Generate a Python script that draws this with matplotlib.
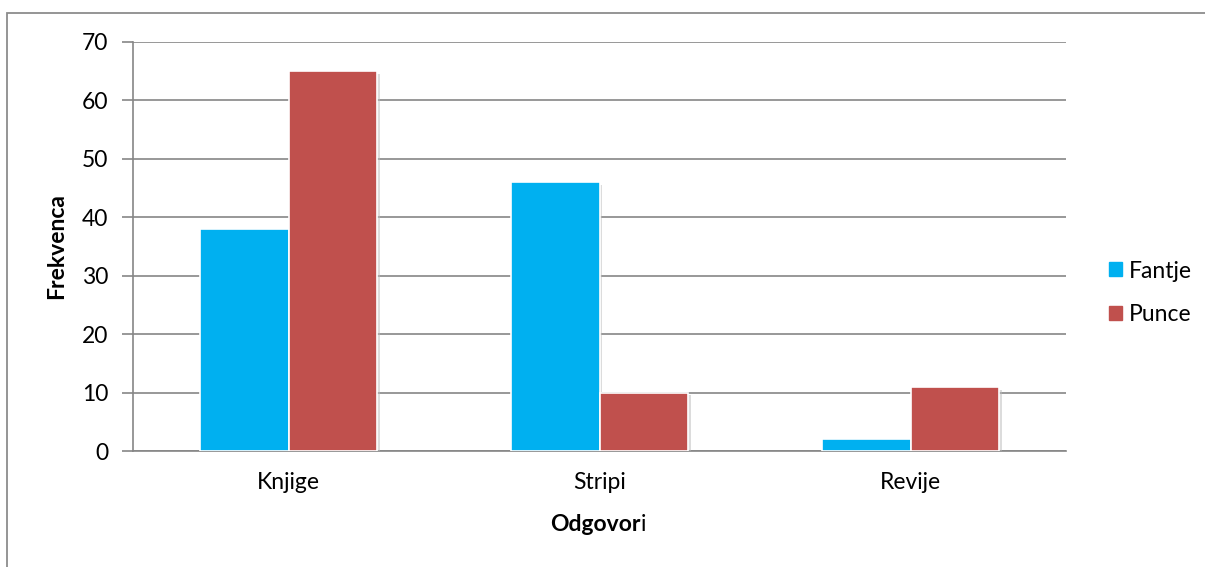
import matplotlib

matplotlib.use("Agg")

import matplotlib.pyplot as plt
import matplotlib.patheffects as pe
import numpy as np
from matplotlib.patches import Patch, Rectangle

plt.rcParams["font.family"] = ["Lato", "DejaVu Sans"]

categories = ["Knjige", "Stripi", "Revije"]
fantje = [38, 46, 2]
punce = [65, 10, 11]
series_names = ["Fantje", "Punce"]
yticks = [0, 10, 20, 30, 40, 50, 60, 70]

BLUE = "#00b0f0"
RED = "#c0504d"
GRID = "#868686"
FS = 16.5


def main():
    fig = plt.figure(figsize=(12.05, 5.67), dpi=100)

    # outer chart border (right and bottom edges fall outside the image)
    fig.patches.append(Rectangle((7 / 1205, -0.05), 1.2, 1 - 13 / 567 + 0.05,
                                 transform=fig.transFigure, fill=False,
                                 ec="#8c8c8c", lw=1.3))

    ax = fig.add_axes([133 / 1205, 1 - 451 / 567, 933 / 1205, 409 / 567])
    x = np.arange(len(categories))
    w = 0.285
    shadow = [pe.SimplePatchShadow(offset=(2, -2), shadow_rgbFace="#bbbbbb", alpha=0.5), pe.Normal()]
    b1 = ax.bar(x - w / 2, fantje, w, color=BLUE, ec="white", lw=1.2, zorder=3)
    b2 = ax.bar(x + w / 2, punce, w, color=RED, ec="white", lw=1.2, zorder=3)
    for b in list(b1) + list(b2):
        b.set_path_effects(shadow)

    ax.set_xlim(-0.5, 2.5)
    ax.set_ylim(0, 70)
    ax.set_yticks(yticks)
    ax.set_xticks(x)
    ax.set_xticklabels(categories, fontsize=FS)
    ax.tick_params(axis="x", length=0, pad=15)
    ax.tick_params(axis="y", length=8, width=1.2, color=GRID, labelsize=FS, pad=10)
    ax.grid(axis="y", color=GRID, lw=1.2, zorder=0)
    for s in ["top", "right"]:
        ax.spines[s].set_visible(False)
    for s in ["left", "bottom"]:
        ax.spines[s].set_color(GRID)
        ax.spines[s].set_linewidth(1.2)

    ax.set_ylabel("Frekvenca", fontsize=FS, fontweight="bold", labelpad=10)

    # x title: "Odgovor" bold followed by a regular "i"
    y_title = 1 - 531 / 567
    t = fig.text(0.4945, y_title, "Odgovor", fontsize=FS, fontweight="bold",
                 ha="center", va="baseline")
    fig.canvas.draw()
    bb = t.get_window_extent().transformed(fig.transFigure.inverted())
    fig.text(bb.x1, y_title, "i", fontsize=FS, ha="left", va="baseline")

    handles = [Patch(color=BLUE), Patch(color=RED)]
    fig.legend(handles=handles, labels=series_names, loc="center left",
               bbox_to_anchor=(1109 / 1205, 1 - 293 / 567), frameon=False,
               fontsize=FS, handlelength=0.57, handleheight=0.57,
               handletextpad=0.3, labelspacing=1.0, borderpad=0,
               borderaxespad=0)

    fig.savefig("out.png", dpi=100)


if __name__ == "__main__":
    main()
